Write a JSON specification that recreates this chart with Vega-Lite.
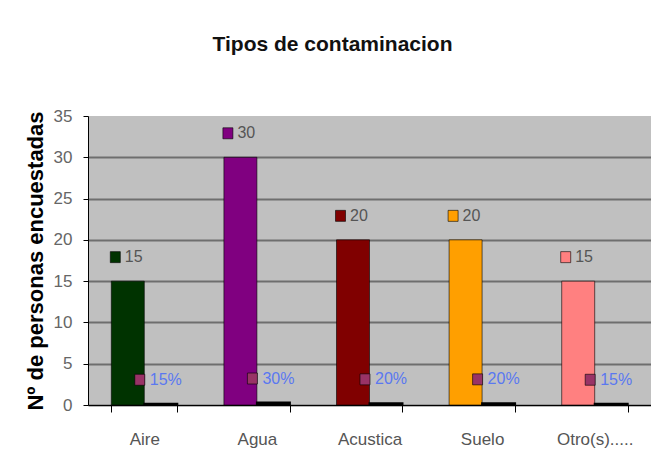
{
  "$schema": "https://vega.github.io/schema/vega-lite/v6.json",
  "width": 563,
  "height": 289,
  "autosize": "none",
  "padding": {"left": 88, "top": 116, "right": 0, "bottom": 63},
  "background": "white",
  "title": {"text": "Tipos de contaminacion", "fontSize": 21, "font": "Liberation Sans", "fontWeight": "bold", "color": "#111111", "offset": 52, "dx": -37, "anchor": "middle"},
  "data": {"values": [
    {"categoria": "Aire", "serie": "Personas", "valor": 15, "etiqueta": "15"},
    {"categoria": "Aire", "serie": "Porcentaje", "valor": 0.15, "etiqueta": "15%"},
    {"categoria": "Agua", "serie": "Personas", "valor": 30, "etiqueta": "30"},
    {"categoria": "Agua", "serie": "Porcentaje", "valor": 0.30, "etiqueta": "30%"},
    {"categoria": "Acustica", "serie": "Personas", "valor": 20, "etiqueta": "20"},
    {"categoria": "Acustica", "serie": "Porcentaje", "valor": 0.20, "etiqueta": "20%"},
    {"categoria": "Suelo", "serie": "Personas", "valor": 20, "etiqueta": "20"},
    {"categoria": "Suelo", "serie": "Porcentaje", "valor": 0.20, "etiqueta": "20%"},
    {"categoria": "Otro(s).....", "serie": "Personas", "valor": 15, "etiqueta": "15"},
    {"categoria": "Otro(s).....", "serie": "Porcentaje", "valor": 0.15, "etiqueta": "15%"}
  ]},
  "encoding": {
    "x": {
      "field": "categoria", "type": "nominal", "sort": null,
      "scale": {"paddingInner": 0.414, "paddingOuter": 0.207},
      "axis": {"title": null, "labelAngle": 0, "labelFontSize": 17, "labelColor": "#555555", "labelFont": "Liberation Sans", "tickBand": "extent", "tickSize": 7, "tickColor": "#000000", "domainColor": "#000000", "labelPadding": 19, "grid": false}
    },
    "xOffset": {"field": "serie", "type": "nominal", "sort": null, "scale": {"paddingInner": 0, "paddingOuter": 0}},
    "y": {
      "field": "valor", "type": "quantitative",
      "scale": {"domain": [0, 35], "nice": false},
      "axis": {"title": "Nº de personas encuestadas", "titleFontSize": 22, "titleFont": "Liberation Sans", "titleFontWeight": "bold", "titleColor": "#000000", "titleX": -53, "titleBaseline": "middle", "values": [0, 5, 10, 15, 20, 25, 30, 35], "labelFontSize": 17, "labelFont": "Liberation Sans", "labelColor": "#666666", "tickSize": 5, "tickColor": "#000000", "domainColor": "#000000", "labelPadding": 11, "grid": true, "gridWidth": 1.8, "gridColor": {"condition": {"test": "datum.value >= 35", "value": "transparent"}, "value": "#6e6e6e"}}
    }
  },
  "layer": [
    {
      "transform": [{"filter": "datum.serie === 'Personas'"}],
      "mark": {"type": "bar", "stroke": "#000000", "strokeWidth": 0.6},
      "encoding": {
        "color": {"field": "categoria", "type": "nominal", "legend": null, "scale": {"domain": ["Aire", "Agua", "Acustica", "Suelo", "Otro(s)....."], "range": ["#003300", "#800080", "#800000", "#FF9F00", "#FF8080"]}}
      }
    },
    {
      "transform": [{"filter": "datum.serie === 'Porcentaje'"}],
      "mark": {"type": "bar", "color": "#000000", "stroke": "#000000", "strokeWidth": 2}
    },
    {
      "transform": [{"filter": "datum.serie === 'Personas'"}],
      "mark": {"type": "point", "shape": "M -1.75 -2.95 L -0.75 -2.95 L -0.75 -1.85 L -1.75 -1.85 Z", "size": 400, "filled": true, "stroke": "#000000", "strokeWidth": 0.6, "opacity": 1},
      "encoding": {
        "color": {"field": "categoria", "type": "nominal", "legend": null}
      }
    },
    {
      "transform": [{"filter": "datum.serie === 'Porcentaje'"}],
      "mark": {"type": "point", "shape": "M -2.6 -2.95 L -1.6 -2.95 L -1.6 -1.85 L -2.6 -1.85 Z", "size": 400, "filled": true, "fill": "#993366", "stroke": "#000000", "strokeWidth": 0.6, "opacity": 1}
    },
    {
      "transform": [{"filter": "datum.serie === 'Personas'"}],
      "mark": {"type": "text", "dx": -3, "dy": -24, "align": "left", "baseline": "middle", "fontSize": 16, "font": "Liberation Sans", "color": "#555555"},
      "encoding": {"text": {"field": "etiqueta"}}
    },
    {
      "transform": [{"filter": "datum.serie === 'Porcentaje'"}],
      "mark": {"type": "text", "dx": -11, "dy": -24, "align": "left", "baseline": "middle", "fontSize": 16, "font": "Liberation Sans", "color": "#5a78f0"},
      "encoding": {"text": {"field": "etiqueta"}}
    }
  ],
  "config": {"view": {"fill": "#C0C0C0", "stroke": null}}
}
